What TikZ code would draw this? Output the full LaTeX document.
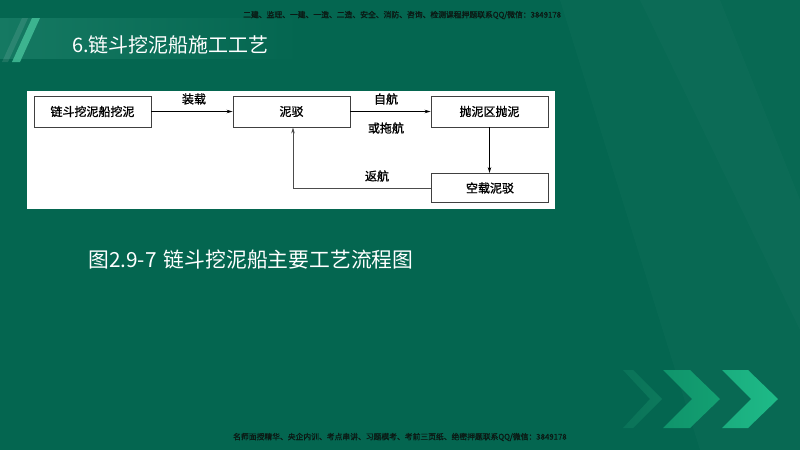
\documentclass[tikz,border=0pt]{standalone}
\usepackage{fontspec}
\setmainfont{Noto Sans CJK SC}
\newfontfamily\boxfont[FakeBold=1.2]{Noto Sans CJK SC}
\newfontfamily\smallfont[FakeBold=1.5]{Noto Sans CJK SC}
\usetikzlibrary{arrows.meta}
\definecolor{bg}{HTML}{046650}
\definecolor{bandc}{HTML}{157962}
\definecolor{smalltxt}{HTML}{0B1A15}
\definecolor{chevA}{HTML}{0E7B5E}
\definecolor{chevB}{HTML}{13A072}
\definecolor{chevC}{HTML}{1EBA87}
\tikzset{
  boxnode/.style={draw=black!75, line width=0.9pt, fill=white, minimum width=117pt, minimum height=31pt, inner sep=0pt, font=\boxfont\fontsize{12}{12}\selectfont},
  flow/.style={draw=black, line width=0.8pt, -{Stealth[length=6pt,width=3.5pt]}},
  retflow/.style={draw=black!70, line width=0.7pt, -{Stealth[length=6pt,width=3.5pt]}},
  lbl/.style={font=\boxfont\fontsize{12}{12}\selectfont, inner sep=0pt},
  tiny/.style={font=\smallfont\fontsize{7.8}{8}\selectfont, text=smalltxt, inner sep=0pt},
  bigwhite/.style={font=\fontsize{20}{20}\selectfont, text=white, inner sep=0pt}
}
\begin{document}
\begin{tikzpicture}[x=1pt,y=-1pt]
\useasboundingbox (0,0) rectangle (800,450);
\fill[bg] (0,0) rectangle (800,450);
% subtle lighter areas on the right
\fill[white, opacity=0.02] (560,0) -- (800,0) -- (800,450) -- (700,450) -- cycle;
\fill[white, opacity=0.02] (640,0) -- (720,0) -- (800,200) -- (800,330) -- cycle;
% header band
\shade[left color=bandc, right color=bg] (0,18) rectangle (300,58);
\fill[white, opacity=0.10] (22,18) -- (28,18) -- (8,62) -- (2,62) -- cycle;
\fill[chevC!80!white, opacity=0.75] (32,18) -- (40,18) -- (20,62) -- (12,62) -- cycle;
\node[bigwhite, anchor=west] (title) at (72,45) {6.链斗挖泥船施工工艺};
% top and bottom small lines
\node[tiny, anchor=west] (toptxt) at (243,15) {二建、监理、一建、一造、二造、安全、消防、咨询、检测课程押题联系QQ/微信：3849178};
\node[tiny, anchor=west] (bottxt) at (233,437) {名师面授精华、央企内训、考点串讲、习题模考、考前三页纸、绝密押题联系QQ/微信：3849178};
% white panel
\fill[white] (27,91) rectangle (555,209);
% boxes
\node[boxnode] (b1) at (92.5,111.5) {链斗挖泥船挖泥};
\node[boxnode] (b2) at (291.5,111.5) {泥驳};
\node[boxnode] (b3) at (489.5,111.5) {抛泥区抛泥};
\node[boxnode, minimum height=29pt] (b4) at (490,188) {空载泥驳};
% connectors
\draw[flow] (b1.east) -- (b2.west);
\draw[flow] (b2.east) -- (b3.west);
\draw[flow] (b3.south) -- (b3.south |- b4.north);
\draw[retflow] (b4.west) -| ([xshift=1.5pt]b2.south);
% labels
\node[lbl] (l1) at (194,99) {装载};
\node[lbl] (l2) at (386,99) {自航};
\node[lbl] (l3) at (386,128) {或拖航};
\node[lbl] (l4) at (377,176) {返航};
% caption
\node[bigwhite, anchor=west, font=\fontsize{20.8}{21}\selectfont] (cap) at (88,260) {图2.9-7\hspace{0.35em}链斗挖泥船主要工艺流程图};
% chevrons
\shade[left color=chevA!70!bg, right color=chevA, opacity=0.9] (623,370) -- (633,370) -- (662,399) -- (633,428) -- (623,428) -- (650,399) -- cycle;
\shade[left color=chevB!80!bg, right color=chevB] (663,370) -- (690,370) -- (720,399) -- (690,428) -- (663,428) -- (692,399) -- cycle;
\shade[left color=chevC!85!bg, right color=chevC] (722,370) -- (748,370) -- (778,399) -- (748,428) -- (722,428) -- (751,399) -- cycle;
\end{tikzpicture}
\end{document}
